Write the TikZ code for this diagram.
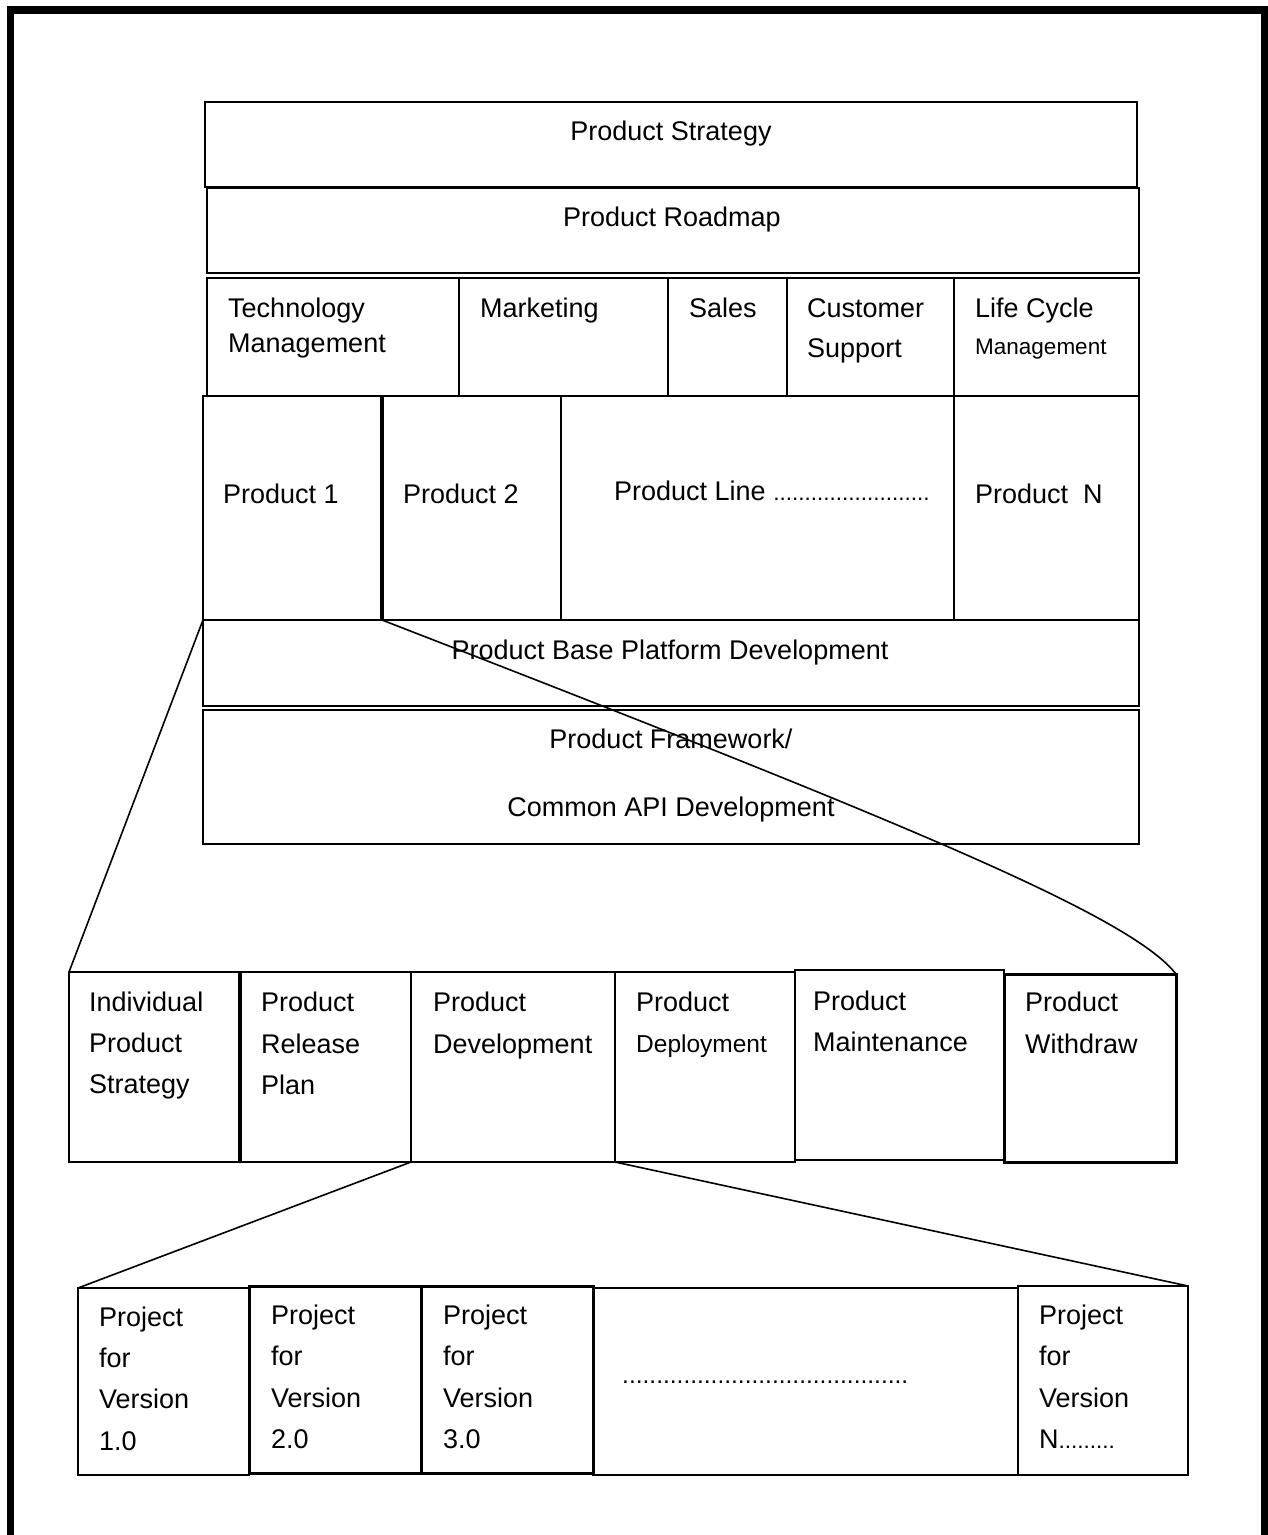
\documentclass[tikz,border=0pt]{standalone}
\usepackage{fontspec}
\setmainfont{Liberation Sans}
\begin{document}
\begin{tikzpicture}[x=1pt,y=-1pt,
  cell/.style={draw, line width=2.3pt, inner sep=0pt, outer sep=0pt, anchor=north west},
  lbl/.style={anchor=base west, inner sep=0pt, font=\fontsize{27}{32}\selectfont},
  clbl/.style={lbl, anchor=base},
  small/.style={font=\fontsize{22.5}{27}\selectfont},
  mid/.style={font=\fontsize{24.5}{29}\selectfont},
  link/.style={line width=1.6pt}]
\useasboundingbox (0,0) rectangle (1268,1535);
% page frame, open at the bottom
\draw[line width=7.5pt] (10.5,1535) -- (10.5,10) -- (1265,10) -- (1265,1535);

% cell macro: name, x1, y1, x2, y2
\newcommand\cellbox[6][]{\node[cell,#1, minimum width={(#5-#3)*1pt}, minimum height={(#6-#4)*1pt}] (#2) at (#3,#4) {};}

% upper stack
\cellbox{ps}{205}{102}{1137}{187}
\cellbox{pr}{207}{188}{1139}{273}
\cellbox{tm}{207}{278}{459}{396}
\cellbox{mk}{459}{278}{668}{396}
\cellbox{sl}{668}{278}{787}{396}
\cellbox{cs}{787}{278}{954}{396}
\cellbox{lc}{954}{278}{1139}{396}
\cellbox{pa}{203}{396}{382}{620}
\cellbox{pb}{382}{396}{561}{620}
\draw[line width=4pt] (pb.north west) -- (pb.south west);
\cellbox{pl}{561}{396}{954}{620}
\cellbox{pn}{954}{396}{1139}{620}
\cellbox{bp}{203}{620}{1139}{706}
\cellbox{fw}{203}{710}{1139}{844}

% life-cycle row
\cellbox{la}{69}{972}{240}{1162}
\cellbox{lb}{240}{972}{411}{1162}
\draw[line width=3.5pt] (lb.north west) -- (lb.south west);
\cellbox{lcd}{411}{972}{615}{1162}
\cellbox{ld}{615}{972}{795}{1162}
\cellbox{lm}{795}{970}{1004}{1160}
\cellbox[line width=3pt]{lw}{1004}{974}{1176}{1162}

% project row
\cellbox{va}{78}{1288}{249}{1475}
\cellbox[line width=3pt]{vb}{249}{1286}{421}{1473}
\cellbox[line width=3pt]{vc}{421}{1286}{593}{1473}
\cellbox{vd}{593}{1288}{1018}{1475}
\cellbox{vn}{1018}{1286}{1188}{1475}

% labels, upper stack
\node[clbl] (t1) at (671,140) {Product Strategy};
\node[clbl] (t2) at (672,226) {Product Roadmap};
\node[lbl] (t3) at (228,317) {Technology};
\node[lbl] (t4) at (228,352) {Management};
\node[lbl] (t5) at (480,317) {Marketing};
\node[lbl] (t6) at (689,317) {Sales};
\node[lbl] (t7) at (807,317) {Customer};
\node[lbl] (t8) at (807,357) {Support};
\node[lbl] (t9) at (975,317) {Life Cycle};
\node[lbl,small] (t10) at (975,354) {Management};
\node[lbl] (t11) at (223,503) {Product 1};
\node[lbl] (t12) at (403,503) {Product 2};
\node[lbl] (t13) at (614,500) {Product Line {\fontsize{22.5}{27}\selectfont .........................}};
\node[lbl] (t14) at (975,503) {Product\ \ N};
\node[clbl] (t15) at (670,659) {Product Base Platform Development};
\node[clbl] (t16) at (671,748) {Product Framework/};
\node[clbl] (t17) at (671,816) {Common API Development};

% labels, life-cycle row
\node[lbl] (u1) at (89,1011) {Individual};
\node[lbl] (u2) at (89,1052) {Product};
\node[lbl] (u3) at (89,1093) {Strategy};
\node[lbl] (u4) at (261,1011) {Product};
\node[lbl] (u5) at (261,1053) {Release};
\node[lbl] (u6) at (261,1094) {Plan};
\node[lbl] (u7) at (433,1011) {Product};
\node[lbl] (u8) at (433,1053) {Development};
\node[lbl] (u9) at (636,1011) {Product};
\node[lbl,mid] (u10) at (636,1052) {Deployment};
\node[lbl] (u11) at (813,1010) {Product};
\node[lbl] (u12) at (813,1051) {Maintenance};
\node[lbl] (u13) at (1025,1011) {Product};
\node[lbl] (u14) at (1025,1053) {Withdraw};

% labels, project row
\node[lbl] (w1) at (99,1326) {Project};
\node[lbl] (w2) at (99,1367) {for};
\node[lbl] (w3) at (99,1408) {Version};
\node[lbl] (w4) at (99,1450) {1.0};
\node[lbl] (w5) at (271,1324) {Project};
\node[lbl] (w6) at (271,1365) {for};
\node[lbl] (w7) at (271,1407) {Version};
\node[lbl] (w8) at (271,1448) {2.0};
\node[lbl] (w9) at (443,1324) {Project};
\node[lbl] (w10) at (443,1365) {for};
\node[lbl] (w11) at (443,1407) {Version};
\node[lbl] (w12) at (443,1448) {3.0};
\node[lbl] (w13) at (622,1383) {{\fontsize{24.5}{29}\selectfont ..........................................}};
\node[lbl] (w14) at (1039,1324) {Project};
\node[lbl] (w15) at (1039,1365) {for};
\node[lbl] (w16) at (1039,1407) {Version};
\node[lbl] (w17) at (1039,1448) {N{\fontsize{22.5}{27}\selectfont .........}};

% zoom-out connectors
\draw[link] (pa.south west) -- (la.north west);
\draw[link] (pb.south west) .. controls (900,821) and (1130,915) .. (lw.north east);
\draw[link] (lcd.south west) -- (va.north west);
\draw[link] (ld.south west) -- (vn.north east);
\end{tikzpicture}
\end{document}
